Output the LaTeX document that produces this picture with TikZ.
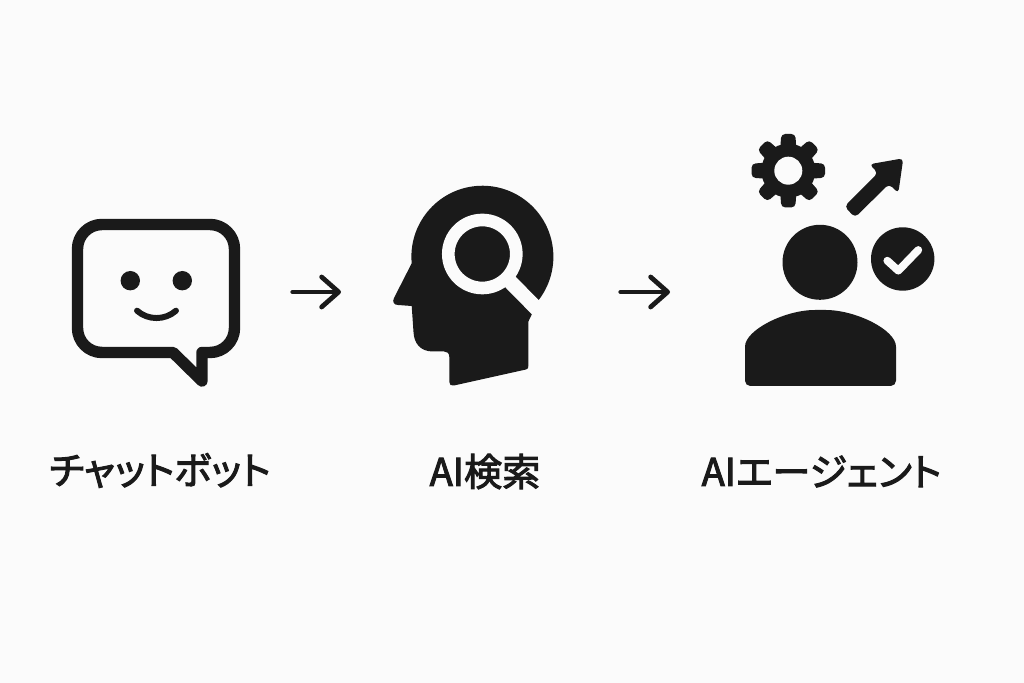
\documentclass[tikz,border=0pt]{standalone}
\usepackage{fontspec}
\setmainfont{Noto Sans CJK JP}[RawFeature=+palt,FakeBold=2.6]
\usetikzlibrary{arrows.meta}
\definecolor{ink}{HTML}{1A1A1A}
\definecolor{paper}{HTML}{FBFBFB}
\tikzset{icon/.style={fill=ink,draw=none},
	 cut/.style={draw=paper,fill=none},
	 stepline/.style={draw=ink,line width=1.35pt,line cap=round,line join=round,
	 	-{Straight Barb[length=1.7mm,width=3mm,line width=1.35pt,round]}},
	 caption/.style={text=ink,font=\fontsize{10.85}{13}\selectfont,inner sep=0pt,anchor=center}
	 }

\begin{document}
\begin{tikzpicture}[x=0.01cm,y=-0.01cm] % everything in reference pixels
	\fill[paper] (0,0) rectangle (1024,683);
	\useasboundingbox (0,0) rectangle (1024,683);
	% speech bubble
	\draw[ink,line width=3.25pt,line join=round] (173,352.5) -- (202,381) -- (202,352.5) -- (210,352.5)
		arc[start angle=90,end angle=0,radius=24.5] -- (234.5,249)
		arc[start angle=0,end angle=-90,radius=24.5] -- (102,224.5)
		arc[start angle=-90,end angle=-180,radius=24.5] -- (77.5,328)
		arc[start angle=180,end angle=90,radius=24.5] -- cycle;
	\fill[icon] (130.3,280.7) circle (9.7);
	\fill[icon] (182.3,280.7) circle (9.7);
	\draw[ink,line width=1.7pt,line cap=round] (137,310.7) .. controls (148,320.5) and (165,320.5) .. (176,310.7);
	% head
	\fill[icon] (411.7,263.3) arc[start angle=174.7,end angle=398.5,radius=71] -- (532.3,313.3)
		-- (528.3,321.7) -- (528.3,366) .. controls (528.3,368) and (528,369) .. (526,369.5)
		-- (454,385.5) .. controls (451,386) and (449.3,385) .. (449.3,382) -- (449.3,357)
		.. controls (449.3,353) and (447,351.5) .. (444,351.5) -- (433,351.5)
		.. controls (420,351.5) and (414,343) .. (413.5,332) -- (411.7,306) -- (398,305)
		.. controls (394,305) and (392,302) .. (394,298) -- cycle;
	\draw[cut,line width=3.6pt] (482.3,254) circle (34);
	\draw[cut,line width=4.2pt] (506.5,278) -- (542,314);
	% gear
	\fill[icon] (788.3,170.7) circle (27);
	\foreach \ang in {0,45,...,315}
		\fill[icon,rounded corners=1.1pt,rotate around={\ang:(788.3,170.7)}]
			(780,152) -- (781.3,134) -- (795.3,134) -- (796.6,152) -- cycle;
	\fill[paper] (788.3,170.7) circle (14);
	% growth arrow
	\fill[icon,rounded corners=1.2pt] (844.5,206.5) -- (855,217.5) -- (889,184) -- (898.3,193.3)
		-- (903.3,158.3) -- (869.3,164.3) -- (878,173) -- cycle;
	% person
	\fill[icon] (820,262.3) circle (37.5);
	\fill[icon,rounded corners=1.5pt] (745,352) .. controls (745,330) and (785,310) .. (820.3,310)
		.. controls (856,310) and (896,330) .. (896,352) -- (896,386) -- (745,386) -- cycle;
	% check badge
	\fill[icon] (902.7,259) circle (31.7);
	\draw[paper,line width=2.2pt,line cap=round,line join=round] (887.3,260.7) -- (898.3,270.7) -- (918.3,250);
	% flow arrows
	\coordinate (a1s) at (292.7,292); \coordinate (a1e) at (341,292);
	\coordinate (a2s) at (620.7,292); \coordinate (a2e) at (670,292);
	\draw[stepline] (a1s) to (a1e);
	\draw[stepline] (a2s) to (a2e);
	% captions
	\node[caption] (l1) at (160,470.5) {チャットボット};
	\node[caption] (l2) at (485,471.5) {AI検索};
	\node[caption] (l3) at (821.5,471.5) {AIエージェント};
\end{tikzpicture}
\end{document}
